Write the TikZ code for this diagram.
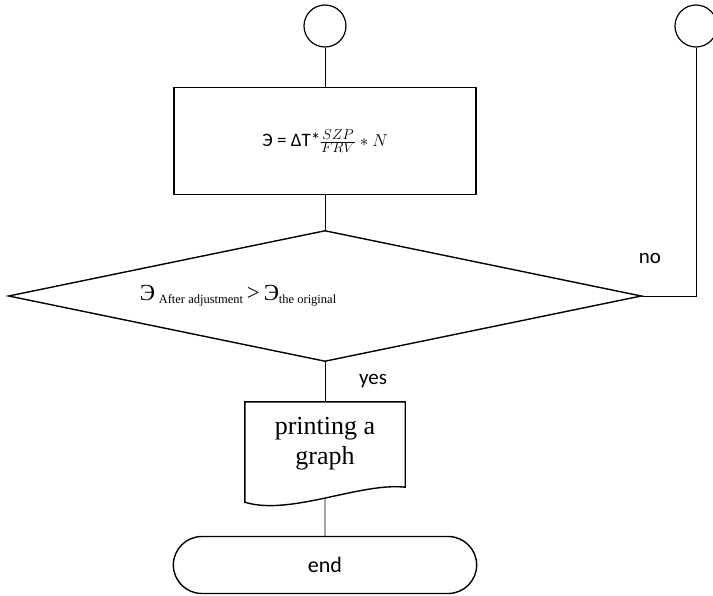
\documentclass[tikz,border=0pt]{standalone}
\usepackage{fontspec}
\setmainfont{Liberation Serif}
\newfontfamily\calibri{Carlito}
\usetikzlibrary{shapes.geometric,shapes.misc}

\tikzset{
  conn/.style={draw, circle, line width=1.2pt, minimum size=42pt, inner sep=0pt},
  procbox/.style={draw, rectangle, line width=1.6pt, minimum width=302pt, minimum height=107pt, font=\calibri\fontsize{19}{22}\selectfont},
  decision/.style={draw, diamond, line width=1.4pt, aspect=4.8, minimum width=633pt, minimum height=131pt, inner sep=0pt},
  docbox/.style={rectangle, minimum width=160pt, minimum height=84pt, align=center, font=\fontsize{26}{30}\selectfont},
  terminal/.style={draw, rounded rectangle, line width=1.4pt, minimum width=310pt, minimum height=57pt, font=\calibri\fontsize{22}{26}\selectfont},
  lbl/.style={font=\calibri\fontsize{21}{24}\selectfont},
  wire/.style={line width=0.8pt}
}

\begin{document}
\begin{tikzpicture}[x=1pt, y=-1pt]
\useasboundingbox (0,0) rectangle (713,596);

\node (start) [conn] at (325,26) {};
\node (entry) [conn, right of=start, node distance=371pt] {};
\node (calc) [procbox, below of=start, node distance=115pt] {Э = ΔT*$\frac{SZP}{FRV}\ast N$};
\node (check) [decision, below of=calc, node distance=155pt] {};
\node (checktext) [xshift=-87pt, font=\fontsize{23}{26}\selectfont] at (check.center)
  {Э\,{\fontsize{12.5}{15}\selectfont\raisebox{-3pt}{After adjustment}}\,>\,Э{\fontsize{12.5}{15}\selectfont\raisebox{-3pt}{the original}}};
\node (doc) [docbox, below of=check, node distance=148pt] {printing a\\graph};
\node (end) [terminal, below of=doc, node distance=121pt] {end};

% document outline with wavy bottom
\draw[line width=1.4pt] (doc.north west) -- (doc.north east) -- ([yshift=-1pt]doc.south east)
  .. controls ([xshift=-45pt,yshift=4pt]doc.south east) and ([xshift=45pt,yshift=-30pt]doc.south west) .. ([yshift=-16pt]doc.south west)
  -- cycle;
\coordinate (docb) at ([yshift=-12pt]doc.south);

\draw[wire] (start) -- (calc);
\draw[wire] (calc) -- (check);
\draw[wire] (check.east) -| (entry);
\draw[wire] (check) -- (doc);
\draw[wire] (docb) -- (end);

\node (no) [lbl] at (650,258) {no};
\node (yes) [lbl] at (373,381) {yes};
\end{tikzpicture}
\end{document}
